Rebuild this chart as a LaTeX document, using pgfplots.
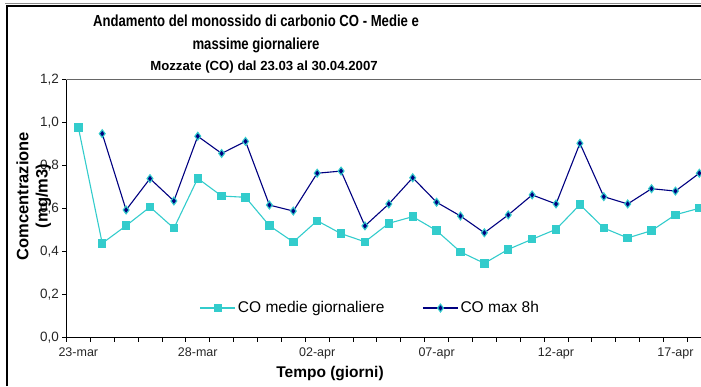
\documentclass[border=0pt]{standalone}
\usepackage{fontspec}
\setmainfont{Liberation Sans}
\newfontfamily\narrowfont[FakeStretch=0.82]{Liberation Sans}
\usepackage{pgfplots}
\pgfplotsset{compat=1.18}
\usepackage{pgfplotstable}

\definecolor{medie}{HTML}{33CCCC}
\definecolor{maxotto}{HTML}{000080}

% Daily CO concentrations (mg/m3), day 0 = 23 March
\pgfplotstableread{
day medie max
0  0.978 nan
1  0.439 0.949
2  0.521 0.594
3  0.608 0.740
4  0.509 0.636
5  0.741 0.937
6  0.659 0.857
7  0.653 0.913
8  0.521 0.617
9  0.445 0.589
10 0.544 0.765
11 0.484 0.775
12 0.446 0.520
13 0.532 0.622
14 0.563 0.744
15 0.498 0.630
16 0.399 0.566
17 0.346 0.488
18 0.411 0.571
19 0.458 0.664
20 0.504 0.622
21 0.619 0.904
22 0.510 0.656
23 0.464 0.622
24 0.498 0.693
25 0.572 0.682
26 0.602 0.765
}\codata

\begin{document}
\begin{tikzpicture}
\begin{axis}[
  at={(66.4pt,48.3pt)}, anchor=south west,
  scale only axis, width=634.6pt, height=258pt,
  xmin=-0.5, xmax=26.07, ymin=0, ymax=1.2,
  axis x line*=bottom, axis y line*=left,
  axis line style={black, line width=0.8pt, -},
  xtick={0,5,10,15,20,25},
  xticklabels={23-mar,28-mar,02-apr,07-apr,12-apr,17-apr},
  minor xtick={-0.5,0.5,...,26.5},
  major x tick style={draw=none},
  ytick={0,0.2,0.4,0.6,0.8,1.0,1.2},
  tick align=outside,
  major tick length=4pt, minor tick length=4pt,
  tick style={black, line width=0.8pt},
  /pgf/number format/assume math mode=true,
  /pgf/number format/use comma,
  xticklabel style={font=\fontsize{12.5}{14}\selectfont, text=black!85, yshift=-3pt},
  yticklabel style={font=\fontsize{13.5}{15}\selectfont, text=black!85,
    /pgf/number format/fixed, /pgf/number format/fixed zerofill,
    /pgf/number format/precision=1},
  legend style={at={(0.2053,0.115)}, anchor=west, draw=none, fill=none,
    font=\fontsize{15.5}{17}\selectfont},
  legend columns=2,
  legend cell align=left,
  legend image code/.code={%
    \draw[#1, mark=none] (0pt,0pt) -- (35pt,0pt);
    \path[#1] plot coordinates {(17.5pt,0pt)};},
]
\draw[black!60, line width=0.8pt] (rel axis cs:0,1) -- (rel axis cs:1,1);
\addplot[medie, line width=1.1pt, mark=square*, mark size=3.7pt,
  mark options={fill=medie, draw=medie, line width=0pt}]
  table[x=day, y=medie] {\codata};
\addlegendentry{CO medie giornaliere\hspace*{36pt}}
\addplot[maxotto, line width=1.1pt, mark=diamond*, mark size=3.9pt,
  mark options={fill=maxotto, draw=medie, line width=1.1pt}]
  table[x=day, y=max] {\codata};
\addlegendentry{CO max 8h}
\end{axis}

% chart area frame
\draw[black!45, line width=1pt] (5pt,382.5pt) -- (701pt,382.5pt);
\draw[black, line width=1.5pt] (7pt,0pt) -- (7pt,380pt) -- (701pt,380pt);

% titles
\node[font=\narrowfont\bfseries\fontsize{16}{18}\selectfont] at (256pt,365pt)
  {Andamento del monossido di carbonio CO - Medie e};
\node[font=\narrowfont\bfseries\fontsize{16}{18}\selectfont] at (256pt,341pt)
  {massime giornaliere};
\node[font=\bfseries\fontsize{13.2}{15}\selectfont] at (264pt,319pt)
  {Mozzate (CO) dal 23.03 al 30.04.2007};

% axis titles
\node[rotate=90, font=\bfseries\fontsize{16.5}{18}\selectfont] at (22.5pt,190pt)
  {Comcentrazione};
\node[rotate=90, font=\bfseries\fontsize{16.5}{18}\selectfont] at (43.5pt,190pt)
  {(mg/m3)};
\node[font=\bfseries\fontsize{15.5}{17}\selectfont] at (330pt,12pt)
  {Tempo (giorni)};

\pgfresetboundingbox
\useasboundingbox (0pt,0pt) rectangle (701pt,386pt);
\end{tikzpicture}
\end{document}
